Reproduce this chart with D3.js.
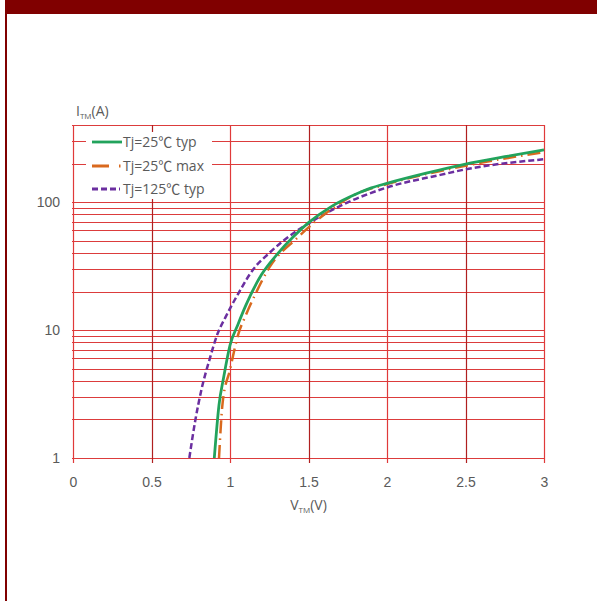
<!DOCTYPE html>
<html>
<head>
<meta charset="utf-8">
<script src="https://cdn.jsdelivr.net/npm/d3@7"></script>
<style>
  body { margin: 0; background: #fff; }
  svg { display: block; font-family: "Open Sans", "Noto Sans", sans-serif; }
</style>
</head>
<body>
<div id="chart"></div>
<script>
// curves: V (volts) and I (amps)
let greenV = [0.9, 0.93, 0.96, 1.0, 1.05, 1.1, 1.2, 1.3, 1.4, 1.5, 1.65, 1.8, 1.9, 2.0, 2.25, 2.5, 2.75, 3.0];
let greenI = [1, 2.6, 4.3, 7.6, 11, 15.5, 27, 39, 53, 69, 93, 115, 129, 140, 168, 198, 226, 256];

let orangeV = [0.93, 0.953, 1.0, 1.053, 1.1, 1.16, 1.255, 1.425, 1.6, 1.8, 2.0, 2.5, 2.76, 3.0];
let orangeI = [1, 2.7, 4.9, 9.3, 13, 18.9, 31.4, 52, 80, 115, 138, 192, 220, 245];

let purpleV = [0.741, 0.78, 0.82, 0.87, 0.92, 0.97, 1.05, 1.15, 1.25, 1.35, 1.5, 1.7, 2.0, 2.34, 2.5, 3.0];
let purpleI = [1, 2, 3.5, 5.9, 9.3, 12.5, 19, 30, 40, 51, 68, 93, 130, 163, 180, 216];

let xTicks = [0, 0.5, 1, 1.5, 2, 2.5, 3];
let yLabels = [1, 10, 100];
let yGrid = [1, 2, 3, 4, 5, 6, 7, 8, 9, 10, 20, 30, 40, 50, 60, 70, 80, 90, 100, 200, 300, 400];

let legendNames = ['Tj=25', 'Tj=25', 'Tj=125'];
let legendTails = [' typ', ' max', ' typ'];

let width = 597, height = 601;
let margin = { top: 125, left: 73, right: 53, bottom: 143 };

let svg = d3.select('#chart')
  .append('svg')
  .attr('width', width)
  .attr('height', height);

// dark red frame
svg.append('rect')
  .attr('x', 6).attr('y', 0)
  .attr('width', width - 6).attr('height', 14)
  .attr('fill', '#800000');
svg.append('rect')
  .attr('x', 5).attr('y', 0)
  .attr('width', 2).attr('height', height)
  .attr('fill', '#800000');

let xScale = d3.scaleLinear()
  .domain([0, 3])
  .range([margin.left, width - margin.right]);

let yScale = d3.scaleLog()
  .domain([1, 400])
  .range([height - margin.bottom, margin.top]);

let grid = svg.append('g');

// horizontal grid
grid.selectAll('line.h')
  .data(yGrid)
  .enter().append('line')
  .attr('class', 'h')
  .attr('x1', xScale(0) - 1).attr('x2', xScale(3) + 1)
  .attr('y1', d => Math.round(yScale(d)) + 0.5)
  .attr('y2', d => Math.round(yScale(d)) + 0.5)
  .attr('stroke', '#dc3c3c')
  .attr('stroke-width', 1.2);

// vertical grid
grid.selectAll('line.v')
  .data(xTicks)
  .enter().append('line')
  .attr('class', 'v')
  .attr('x1', d => Math.round(xScale(d)) + 0.5)
  .attr('x2', d => Math.round(xScale(d)) + 0.5)
  .attr('y1', yScale(400))
  .attr('y2', yScale(1) + 5)
  .attr('stroke', d => d % 1 === 0 ? '#e03a3a' : '#b02020')
  .attr('stroke-width', 1.2);

// axis labels
let xAxis = d3.axisBottom(xScale).tickValues(xTicks).tickFormat(d => String(d)).tickSize(0);
let gx = svg.append('g')
  .attr('transform', 'translate(0,' + yScale(1) + ')')
  .call(xAxis);
gx.select('.domain').remove();
gx.selectAll('text')
  .attr('fill', '#5a5a5a')
  .style('font-size', '14px')
  .attr('dy', '0.32em')
  .attr('y', 25);

let yAxis = d3.axisLeft(yScale).tickValues(yLabels).tickFormat(d3.format('d')).tickSize(0).tickPadding(13);
let gy = svg.append('g')
  .attr('transform', 'translate(' + xScale(0) + ',0)')
  .call(yAxis);
gy.select('.domain').remove();
gy.selectAll('text')
  .attr('fill', '#5a5a5a')
  .style('font-size', '14px');

// axis titles
let yTitle = svg.append('text')
  .attr('x', 76).attr('y', 116)
  .attr('fill', '#5a5a5a')
  .style('font-size', '14px');
yTitle.append('tspan').text('I');
yTitle.append('tspan').attr('dy', 3).style('font-size', '8px').text('TM');
yTitle.append('tspan').attr('dy', -3).text('(A)');

let xTitle = svg.append('text')
  .attr('x', xScale(1.5)).attr('y', 510)
  .attr('text-anchor', 'middle')
  .attr('fill', '#5a5a5a')
  .style('font-size', '14px');
xTitle.append('tspan').text('V');
xTitle.append('tspan').attr('dy', 3).style('font-size', '8px').text('TM');
xTitle.append('tspan').attr('dy', -3).text('(V)');

// curves
let line = d3.line()
  .x(d => xScale(d.v))
  .y(d => yScale(d.i))
  .curve(d3.curveMonotoneX);

function pairs(vs, is) {
  let out = [];
  for (let k = 0; k < vs.length; k++) out.push({ v: vs[k], i: is[k] });
  return out;
}

let series = [
  { data: pairs(purpleV, purpleI), color: '#6b2fa0', dash: '6,3', w: 2.5 },
  { data: pairs(orangeV, orangeI), color: '#d9691e', dash: '13,5,1.5,5', w: 2.5 },
  { data: pairs(greenV, greenI), color: '#22a35c', dash: null, w: 2.8 }
];

series.forEach(s => {
  svg.append('path')
    .attr('d', line(s.data))
    .attr('fill', 'none')
    .attr('stroke', s.color)
    .attr('stroke-width', s.w)
    .attr('stroke-dasharray', s.dash);
});

// legend
svg.append('rect')
  .attr('x', 86).attr('y', 132)
  .attr('width', 126).attr('height', 67)
  .attr('fill', '#fff');

let legendStyle = [
  { color: '#22a35c', dash: null, x2: 122 },
  { color: '#d9691e', dash: '17,10,1.5,10', x2: 123 },
  { color: '#6b2fa0', dash: '6,3', x2: 120 }
];
let legendY = [142, 166, 189];

legendNames.forEach((name, k) => {
  svg.append('line')
    .attr('x1', 92).attr('x2', legendStyle[k].x2)
    .attr('y1', legendY[k]).attr('y2', legendY[k])
    .attr('stroke', legendStyle[k].color)
    .attr('stroke-width', 2.8)
    .attr('stroke-dasharray', legendStyle[k].dash);
  let t = svg.append('text')
    .attr('x', 123).attr('y', legendY[k] + 5)
    .attr('fill', '#5a5a5a')
    .style('font-size', '14px');
  t.append('tspan').text(name);
  t.append('tspan').style('font-family', '"Noto Sans CJK SC"').text('\u2103');
  t.append('tspan').text(legendTails[k]);
});
</script>
</body>
</html>
